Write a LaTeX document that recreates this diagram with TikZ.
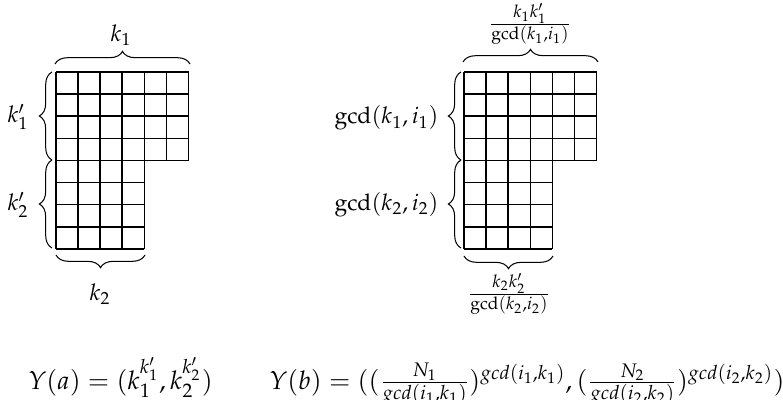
\documentclass[tikz,border=0pt]{standalone}
\usepackage{mathpazo}
\usetikzlibrary{decorations.pathreplacing}
\begin{document}
\begin{tikzpicture}[x=0.435pt,y=-0.435pt,
  gridline/.style={line width=0.7pt},
  brace/.style={decorate,decoration={brace,amplitude=5.5pt},line width=0.45pt},
  lbl/.style={inner sep=0pt},
  formula/.style={inner sep=0pt,anchor=base west,font=\fontsize{11.2}{13}\selectfont}]
\useasboundingbox (0,0) rectangle (783,399);
\def\cs{22.1}
% grids
\foreach \ox in {56,464}{
  \foreach \i in {0,...,4}{\draw[gridline] ({\ox},{72+\i*\cs}) -- ({\ox+6*\cs},{72+\i*\cs});}
  \foreach \i in {5,...,8}{\draw[gridline] ({\ox},{72+\i*\cs}) -- ({\ox+4*\cs},{72+\i*\cs});}
  \foreach \j in {0,...,4}{\draw[gridline] ({\ox+\j*\cs},72) -- ({\ox+\j*\cs},{72+8*\cs});}
  \foreach \j in {5,6}{\draw[gridline] ({\ox+\j*\cs},72) -- ({\ox+\j*\cs},{72+4*\cs});}
}
% brace end points (left picture)
\coordinate (Lt1) at (55,64);  \coordinate (Lt2) at (190,64);
\coordinate (Ll1) at (52,160); \coordinate (Ll0) at (52,72);
\coordinate (Ll2) at (52,248);
\coordinate (Lb1) at (56,255); \coordinate (Lb2) at (145,255);
% brace end points (right picture)
\coordinate (Rt1) at (463,62); \coordinate (Rt2) at (598,62);
\coordinate (Rl1) at (461,160); \coordinate (Rl0) at (461,72);
\coordinate (Rl2) at (461,248);
\coordinate (Rb1) at (464,256); \coordinate (Rb2) at (553,256);
% braces
\draw[brace] (Lt1) -- (Lt2);
\draw[brace] (Ll1) -- (Ll0);
\draw[brace] (Ll2) -- (Ll1);
\draw[brace] (Lb2) -- (Lb1);
\draw[brace] (Rt1) -- (Rt2);
\draw[brace] (Rl1) -- (Rl0);
\draw[brace] (Rl2) -- (Rl1);
\draw[brace] (Rb2) -- (Rb1);
% labels
\node[lbl] (k1) at (121,35) {$k_1$};
\node[lbl] (k2) at (100,294) {$k_2$};
\node[lbl] (k1p) at (18,117) {$k'_1$};
\node[lbl] (k2p) at (18,205) {$k'_2$};
\node[lbl] (ft) at (530,24) {$\frac{k_1k'_1}{\gcd(k_1,i_1)}$};
\node[lbl] (fb) at (509,294) {$\frac{k_2k'_2}{\gcd(k_2,i_2)}$};
\node[lbl,anchor=east] (g1) at (439,118) {$\gcd(k_1,i_1)$};
\node[lbl,anchor=east] (g2) at (439,205) {$\gcd(k_2,i_2)$};
% formulas
\node[formula] (ya) at (28,389) {$Y(a)=(k_1^{k'_1},k_2^{k'_2})$};
\node[formula] (yb) at (269,389) {$Y(b)=((\frac{N_1}{gcd(i_1,k_1)})^{gcd(i_1,k_1)},(\frac{N_2}{gcd(i_2,k_2)})^{gcd(i_2,k_2)})$};
\end{tikzpicture}
\end{document}
